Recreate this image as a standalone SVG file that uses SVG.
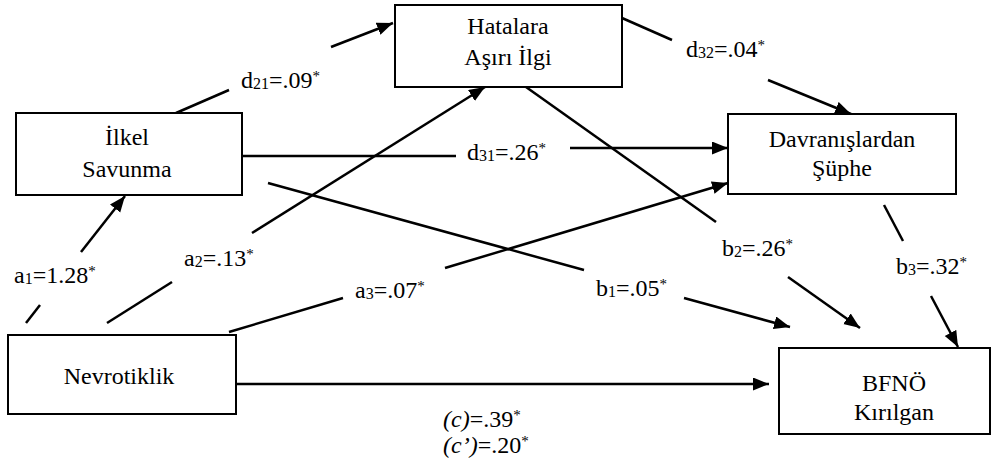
<svg xmlns="http://www.w3.org/2000/svg" width="994" height="463" viewBox="0 0 994 463">
<style>
.box{fill:#fff;stroke:#000;stroke-width:2}
.t{font-family:'Liberation Serif','Times New Roman',serif;font-size:24px;fill:#000}
.c{text-anchor:middle}
.ln{stroke:#000;stroke-width:2.5;fill:none}
.sub{font-size:16px}
.sup{font-size:15px}
.it{font-style:italic}
</style>
<defs>
<marker id="ah" markerUnits="userSpaceOnUse" markerWidth="17" markerHeight="14" refX="16" refY="6.5" orient="auto">
<path d="M0,0 L16,6.5 L0,13 Z" fill="#000"/>
</marker>
</defs>
<rect width="994" height="463" fill="#fff"/>

<g id="connectors">
<line class="ln" x1="26" y1="323" x2="40" y2="305"/>
<line class="ln" x1="81" y1="252" x2="125" y2="196" marker-end="url(#ah)"/>
<line class="ln" x1="107" y1="323" x2="172" y2="282"/>
<line class="ln" x1="252" y1="233" x2="485" y2="87" marker-end="url(#ah)"/>
<line class="ln" x1="229" y1="332" x2="343" y2="298"/>
<line class="ln" x1="445" y1="268" x2="728" y2="183" marker-end="url(#ah)"/>
<line class="ln" x1="176" y1="113" x2="229" y2="90"/>
<line class="ln" x1="331" y1="47" x2="393" y2="23" marker-end="url(#ah)"/>
<line class="ln" x1="242" y1="156" x2="456" y2="156"/>
<line class="ln" x1="570" y1="148" x2="728" y2="148" marker-end="url(#ah)"/>
<line class="ln" x1="622" y1="18" x2="672" y2="40"/>
<line class="ln" x1="768" y1="80" x2="851" y2="114" marker-end="url(#ah)"/>
<line class="ln" x1="268" y1="183" x2="584" y2="270"/>
<line class="ln" x1="684" y1="298" x2="790" y2="327" marker-end="url(#ah)"/>
<line class="ln" x1="526" y1="87" x2="716" y2="222"/>
<line class="ln" x1="788" y1="277" x2="860" y2="328" marker-end="url(#ah)"/>
<line class="ln" x1="884" y1="205" x2="903" y2="241"/>
<line class="ln" x1="931" y1="296" x2="958" y2="347" marker-end="url(#ah)"/>
<line class="ln" x1="236" y1="384" x2="769" y2="384" marker-end="url(#ah)"/>
</g>

<g id="hatalara">
<rect class="box" x="395" y="5" width="227" height="82"/>
<text class="t c" x="508" y="34">Hatalara</text>
<text class="t c" x="508" y="65">Aşırı İlgi</text>
</g>
<g id="ilkel">
<rect class="box" x="16" y="113" width="226" height="82"/>
<text class="t c" x="127" y="145">İlkel</text>
<text class="t c" x="127" y="177">Savunma</text>
</g>
<g id="davranislardan">
<rect class="box" x="728" y="114" width="228" height="80"/>
<text class="t c" x="842" y="147">Davranışlardan</text>
<text class="t c" x="842" y="176">Şüphe</text>
</g>
<g id="nevrotiklik">
<rect class="box" x="8" y="335" width="228" height="79"/>
<text class="t c" x="119" y="384">Nevrotiklik</text>
</g>
<g id="bfno">
<rect class="box" x="779" y="348" width="211" height="86"/>
<text class="t c" x="894" y="391">BFNÖ</text>
<text class="t c" x="894" y="420">Kırılgan</text>
</g>

<g id="labels">
<text class="t" x="241" y="88">d<tspan class="sub" dy="1">21</tspan><tspan dy="-1">=.09</tspan><tspan class="sup" dy="-7">*</tspan></text>
<text class="t" x="686" y="57">d<tspan class="sub" dy="1">32</tspan><tspan dy="-1">=.04</tspan><tspan class="sup" dy="-7">*</tspan></text>
<text class="t" x="467" y="160">d<tspan class="sub" dy="1">31</tspan><tspan dy="-1">=.26</tspan><tspan class="sup" dy="-7">*</tspan></text>
<text class="t" x="14" y="283">a<tspan class="sub" dy="1">1</tspan><tspan dy="-1">=1.28</tspan><tspan class="sup" dy="-7">*</tspan></text>
<text class="t" x="184" y="266">a<tspan class="sub" dy="1">2</tspan><tspan dy="-1">=.13</tspan><tspan class="sup" dy="-7">*</tspan></text>
<text class="t" x="355" y="298">a<tspan class="sub" dy="1">3</tspan><tspan dy="-1">=.07</tspan><tspan class="sup" dy="-7">*</tspan></text>
<text class="t" x="596" y="296">b<tspan class="sub" dy="1">1</tspan><tspan dy="-1">=.05</tspan><tspan class="sup" dy="-7">*</tspan></text>
<text class="t" x="722" y="256">b<tspan class="sub" dy="1">2</tspan><tspan dy="-1">=.26</tspan><tspan class="sup" dy="-7">*</tspan></text>
<text class="t" x="896" y="274">b<tspan class="sub" dy="1">3</tspan><tspan dy="-1">=.32</tspan><tspan class="sup" dy="-7">*</tspan></text>
<text class="t" x="443" y="427"><tspan class="it">(c)</tspan>=.39<tspan class="sup" dy="-7">*</tspan></text>
<text class="t" x="443" y="453"><tspan class="it">(c’)</tspan>=.20<tspan class="sup" dy="-7">*</tspan></text>
</g>
</svg>
